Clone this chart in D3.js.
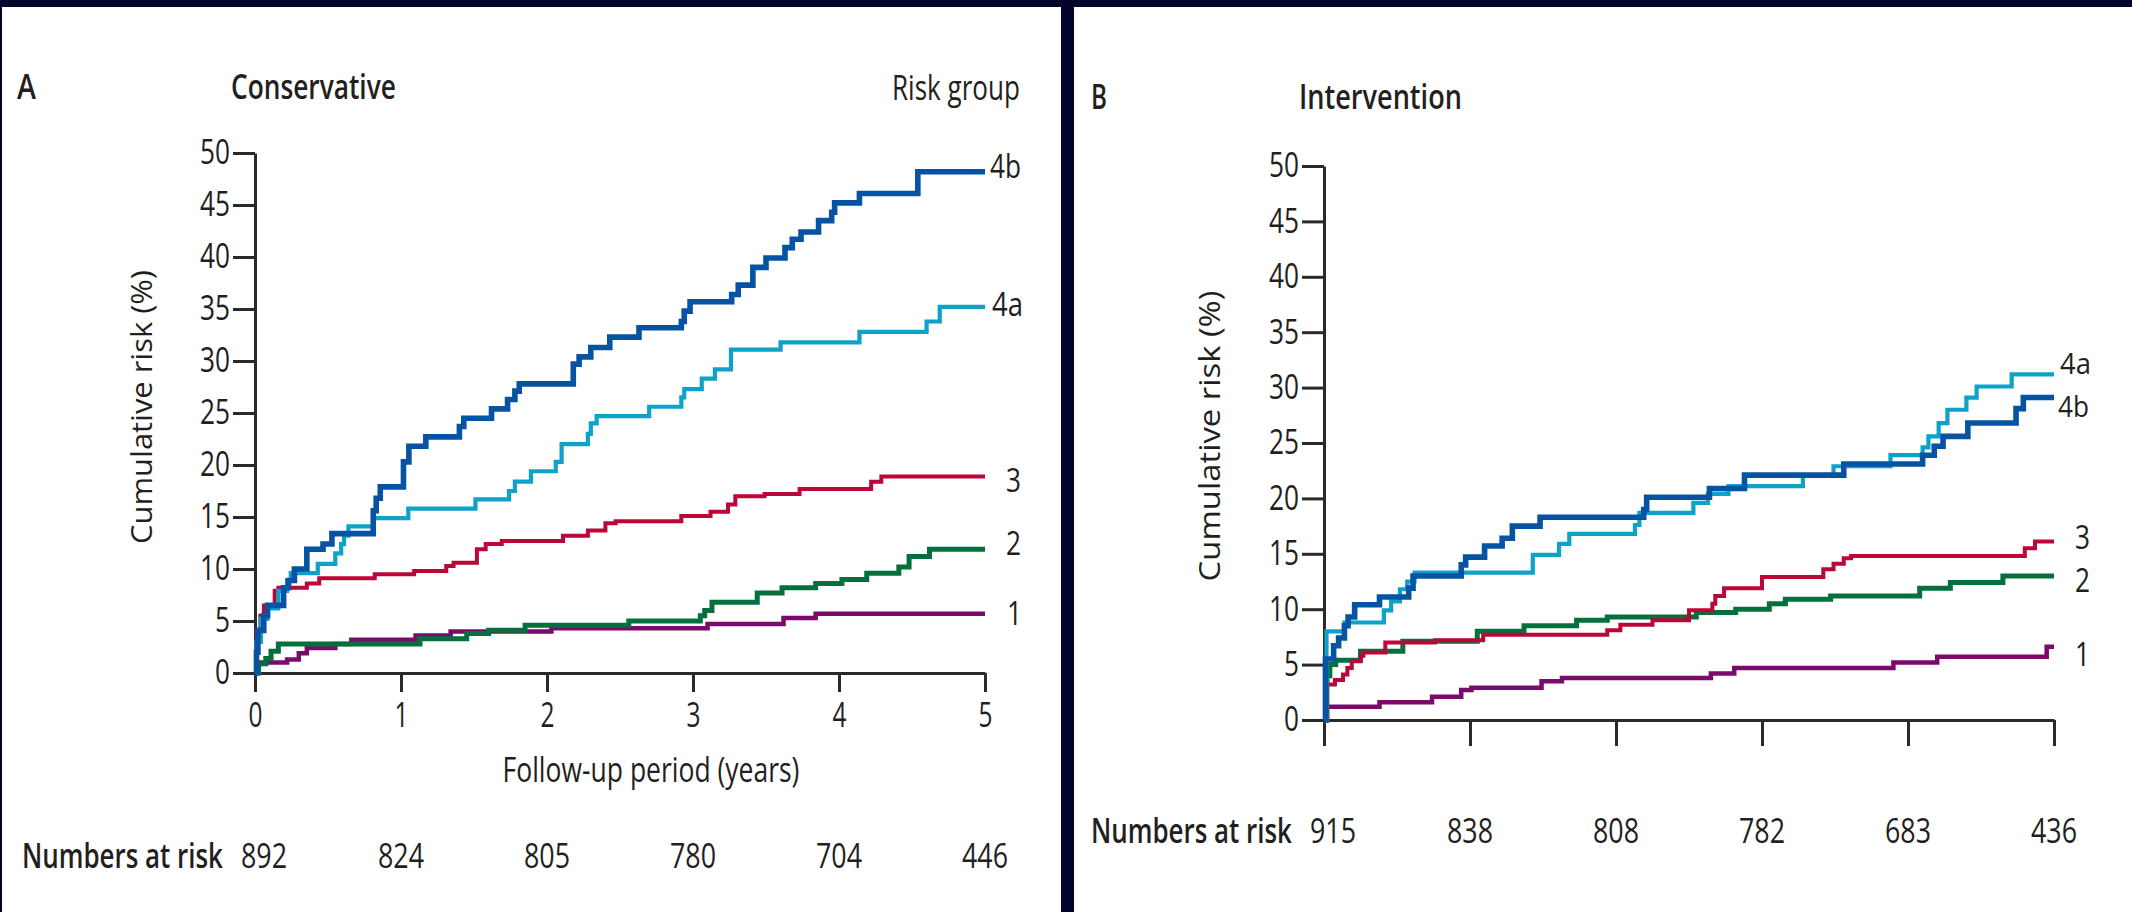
<!DOCTYPE html>
<html><head><meta charset="utf-8">
<script src="https://cdn.jsdelivr.net/npm/d3@7"></script>
<style>
html,body{margin:0;padding:0;background:#02022a;}
svg{display:block;}
text{font-family:"Open Sans","Noto Sans",sans-serif;fill:#231f20;}
</style></head><body>
<svg id="chart" width="2132" height="912"></svg>
<script>
// ---------- data ----------
const years = [0, 1, 2, 3, 4, 5];
const yTicks = [0, 5, 10, 15, 20, 25, 30, 35, 40, 45, 50];
const groups = ["1", "2", "3", "4a", "4b"];
const groupColors = ["#7a0a6c", "#06703c", "#bb0638", "#0ea2c8", "#0653a3"];
const groupWidths = [4.5, 5, 4, 4.2, 5.6];

const consAtRisk = [892, 824, 805, 780, 704, 446];
const intvAtRisk = [915, 838, 808, 782, 683, 436];

// Conservative (panel A): [year, cumulative risk %], step-after
const cons1 = [[0,0],[0.012,1.0],[0.22,1.3],[0.30,1.9],[0.355,2.4],[0.55,2.8],[0.66,3.2],[1.10,3.6],[1.34,4.0],[2.03,4.3],[3.10,4.7],[3.62,5.3],[3.84,5.7],[5.0,5.7]];
const cons2 = [[0,0],[0.025,0.9],[0.074,1.4],[0.11,2.1],[0.16,2.8],[1.13,3.3],[1.45,3.8],[1.60,4.1],[1.85,4.6],[2.56,5.0],[3.05,5.5],[3.08,6.0],[3.13,6.8],[3.44,7.7],[3.61,8.2],[3.84,8.6],[4.02,9.0],[4.19,9.6],[4.41,10.2],[4.48,11.2],[4.62,11.9],[5.0,11.9]];
const cons3 = [[0,0],[0.01,4.1],[0.037,5.5],[0.061,6.5],[0.135,7.9],[0.16,8.2],[0.355,8.6],[0.44,9.1],[0.82,9.5],[1.09,9.8],[1.31,10.3],[1.36,10.6],[1.52,11.9],[1.58,12.4],[1.69,12.7],[2.11,13.2],[2.28,13.7],[2.40,14.4],[2.47,14.6],[2.92,15.1],[3.12,15.5],[3.24,16.2],[3.29,17.0],[3.49,17.2],[3.73,17.7],[4.22,18.4],[4.29,18.9],[5.0,18.9]];
const cons4a = [[0,0],[0.01,3.0],[0.04,5.2],[0.086,6.2],[0.16,7.9],[0.22,8.9],[0.245,9.6],[0.43,10.5],[0.55,11.5],[0.59,12.4],[0.61,13.2],[0.64,14.1],[0.81,14.9],[1.05,15.8],[1.51,16.7],[1.74,17.5],[1.78,18.4],[1.89,19.4],[2.06,20.3],[2.10,22.0],[2.28,23.0],[2.30,24.0],[2.34,24.7],[2.70,25.6],[2.92,26.5],[2.94,27.3],[3.06,28.3],[3.15,29.2],[3.26,31.1],[3.60,31.8],[4.14,32.8],[4.60,33.8],[4.69,35.2],[5.0,35.2]];
const cons4b = [[0,0],[0.01,2.0],[0.02,4.1],[0.06,5.5],[0.086,6.5],[0.196,8.2],[0.23,8.9],[0.27,10.0],[0.355,11.9],[0.466,12.4],[0.527,13.4],[0.81,15.6],[0.83,16.8],[0.858,17.9],[1.017,20.3],[1.054,21.8],[1.17,22.7],[1.40,23.7],[1.43,24.5],[1.62,25.4],[1.73,26.3],[1.78,27.1],[1.81,27.8],[2.18,29.7],[2.22,30.4],[2.30,31.3],[2.43,32.3],[2.63,33.2],[2.92,33.8],[2.94,34.8],[2.98,35.7],[3.265,36.4],[3.31,37.3],[3.41,39.0],[3.50,39.9],[3.63,40.9],[3.68,41.7],[3.74,42.4],[3.86,43.5],[3.95,44.3],[3.97,45.2],[4.14,46.1],[4.54,48.2],[5.0,48.2]];

// Intervention (panel B)
const intv1 = [[0,0],[0.02,1.2],[0.38,1.6],[0.74,2.1],[0.94,2.7],[1.01,2.9],[1.49,3.5],[1.63,3.8],[2.65,4.2],[2.81,4.7],[3.90,5.2],[4.20,5.7],[4.95,6.6],[5.0,6.6]];
const intv2 = [[0,0],[0.02,4.0],[0.04,5.0],[0.08,5.4],[0.25,6.2],[0.54,7.1],[1.05,8.0],[1.37,8.5],[1.73,9.0],[1.94,9.3],[2.55,9.7],[2.82,10.0],[3.05,10.5],[3.16,10.9],[3.47,11.2],[4.08,11.9],[4.29,12.4],[4.65,13.0],[5.0,13.0]];
const intv3 = [[0,0],[0.02,3.2],[0.075,3.6],[0.13,4.1],[0.16,4.7],[0.19,5.3],[0.25,5.8],[0.27,6.1],[0.42,7.0],[0.76,7.2],[1.09,7.7],[1.94,8.1],[2.03,8.6],[2.25,9.0],[2.50,9.9],[2.66,10.5],[2.68,11.2],[2.74,11.9],[3.0,12.9],[3.42,13.6],[3.49,14.1],[3.56,14.6],[3.61,14.8],[4.80,15.5],[4.87,16.1],[5.0,16.1]];
const intv4a = [[0,0],[0.017,8.0],[0.14,8.8],[0.41,9.9],[0.46,10.7],[0.52,11.8],[0.57,12.5],[0.62,13.3],[1.43,14.9],[1.61,15.9],[1.68,16.8],[2.13,17.6],[2.16,18.7],[2.53,19.6],[2.63,20.4],[2.77,21.1],[3.28,22.1],[3.49,22.9],[3.88,23.9],[4.10,24.6],[4.14,25.6],[4.21,26.8],[4.27,28.0],[4.40,29.1],[4.47,30.1],[4.71,31.2],[5.0,31.2]];
const intv4b = [[0,0],[0.01,5.5],[0.066,6.7],[0.1,7.4],[0.14,8.5],[0.165,9.3],[0.21,10.4],[0.38,11.1],[0.58,11.9],[0.61,13.0],[0.94,14.0],[0.97,14.7],[1.10,15.7],[1.22,16.4],[1.29,17.5],[1.48,18.3],[2.19,19.0],[2.21,20.1],[2.64,20.9],[2.88,22.1],[3.56,23.1],[4.10,23.9],[4.18,24.7],[4.24,25.6],[4.41,26.8],[4.74,28.1],[4.79,29.1],[5.0,29.1]];

// ---------- layout ----------
const panels = [
  { letter: "A", title: "Conservative", series: [cons1, cons2, cons3, cons4a, cons4b], atRisk: consAtRisk,
    x0: 255, x1: 985, yTop: 153, yBot: 673, xTick: 19, xLabels: true, xTitle: true,
    headBase: 99, letterX: 17, letterW: 19, titleX: 231, titleW: 165, riskGroup: true,
    yTitleX: 152, yTitleY: 407, yTitleW: 274,
    nBase: 868, nLabelX: 22,
    labelOff: [11, 6, 16, 9, 6], labelDx: [22, 21, 21, 7, 5], labelSize: [33, 33, 33, 33, 33] },
  { letter: "B", title: "Intervention", series: [intv1, intv2, intv3, intv4a, intv4b], atRisk: intvAtRisk,
    x0: 1324, x1: 2054, yTop: 166, yBot: 720, xTick: 26, xLabels: false, xTitle: false,
    headBase: 109, letterX: 1091, letterW: 16, titleX: 1299, titleW: 163, riskGroup: false,
    yTitleX: 1220, yTitleY: 436, yTitleW: 291,
    nBase: 843, nLabelX: 1091,
    labelOff: [19, 16, 7, 0, 19], labelDx: [21, 21, 21, 6, 4], labelSize: [33, 33, 33, 30, 30] }
];

const svg = d3.select("#chart");
svg.append("rect").attr("width", 2132).attr("height", 912).attr("fill", "#02022a");
svg.append("rect").attr("x", 2).attr("y", 7).attr("width", 1059).attr("height", 905).attr("fill", "#fff");
svg.append("rect").attr("x", 1074).attr("y", 7).attr("width", 1058).attr("height", 905).attr("fill", "#fff");

// condensed text: placed at origin, then translated and squeezed horizontally to a target width
function txt(g, s, x, y, o) {
  const t = g.append("text").attr("x", 0).attr("y", 0).text(s)
    .attr("font-size", o.size || 34).attr("font-weight", o.weight || 400)
    .attr("text-anchor", o.anchor || "start");
  const nat = t.node().getComputedTextLength() || 1;
  const sx = o.w ? o.w / nat : 1;
  t.attr("transform", `translate(${x},${y})${o.rotate ? " rotate(-90)" : ""} scale(${sx},1)`);
  return t;
}
function squeezeTick(t, w, ox, oy) {
  const nat = t.node().getComputedTextLength() || 1;
  t.attr("x", 0).attr("y", 0).attr("transform", `translate(${ox},${oy}) scale(${w / nat},1)`);
}

const AX = "#2a2a2a";

panels.forEach(p => {
  const g = svg.append("g");
  const x = d3.scaleLinear().domain([0, 5]).range([p.x0, p.x1]);
  const y = d3.scaleLinear().domain([0, 50]).range([p.yBot, p.yTop]);

  // headings
  txt(g, p.letter, p.letterX, p.headBase, { size: 34, weight: 600, w: p.letterW });
  txt(g, p.title, p.titleX, p.headBase, { size: 35, weight: 600, w: p.titleW });
  if (p.riskGroup) txt(g, "Risk group", 892, 100, { size: 35, w: 128 });

  // y axis
  const ya = g.append("g").attr("transform", `translate(${p.x0},0)`)
    .call(d3.axisLeft(y).tickValues(yTicks).tickSize(22).tickPadding(3).tickSizeOuter(0));
  ya.select(".domain").attr("stroke", AX).attr("stroke-width", 3);
  ya.selectAll(".tick line").attr("stroke", AX).attr("stroke-width", 3);
  ya.selectAll(".tick text")
    .attr("font-size", 34).attr("font-family", null).attr("fill", "#231f20")
    .each(function (d) { squeezeTick(d3.select(this), 15 * String(d).length, -25, 0); });

  // x axis
  const xa = g.append("g").attr("transform", `translate(0,${p.yBot})`)
    .call(d3.axisBottom(x).tickValues(years).tickSize(p.xTick).tickPadding(11).tickSizeOuter(0)
      .tickFormat(p.xLabels ? d3.format("d") : () => ""));
  xa.select(".domain").attr("stroke", AX).attr("stroke-width", 3);
  xa.selectAll(".tick line").attr("stroke", AX).attr("stroke-width", 3);
  if (p.xLabels) {
    xa.selectAll(".tick text")
      .attr("font-size", 34).attr("font-family", null).attr("fill", "#231f20")
      .each(function () { squeezeTick(d3.select(this), 14, 0, p.xTick + 11); });
  }

  // axis titles
  txt(g, "Cumulative risk (%)", p.yTitleX, p.yTitleY, { size: 30, anchor: "middle", w: p.yTitleW, rotate: true });
  if (p.xTitle) txt(g, "Follow-up period (years)", 651, 782, { size: 34, anchor: "middle", w: 297 });

  // curves
  const line = d3.line().x(d => x(d[0])).y(d => y(d[1])).curve(d3.curveStepAfter);
  p.series.forEach((s, i) => {
    g.append("path").datum(s).attr("d", line)
      .attr("fill", "none").attr("stroke", groupColors[i]).attr("stroke-width", groupWidths[i])
      .attr("stroke-linejoin", "miter").attr("stroke-linecap", "butt");
  });

  // end labels
  p.series.forEach((s, i) => {
    const last = s[s.length - 1];
    const w = groups[i].length === 2 ? 31 : 15;
    txt(g, groups[i], x(last[0]) + p.labelDx[i], y(last[1]) + p.labelOff[i], { size: p.labelSize[i], w: w });
  });

  // numbers at risk
  txt(g, "Numbers at risk", p.nLabelX, p.nBase, { size: 34, weight: 600, w: 201 });
  p.atRisk.forEach((n, i) => {
    txt(g, String(n), x(years[i]) + (i === 0 ? 9 : 0), p.nBase, { size: 34, anchor: "middle", w: 46 });
  });
});
</script>
</body></html>
